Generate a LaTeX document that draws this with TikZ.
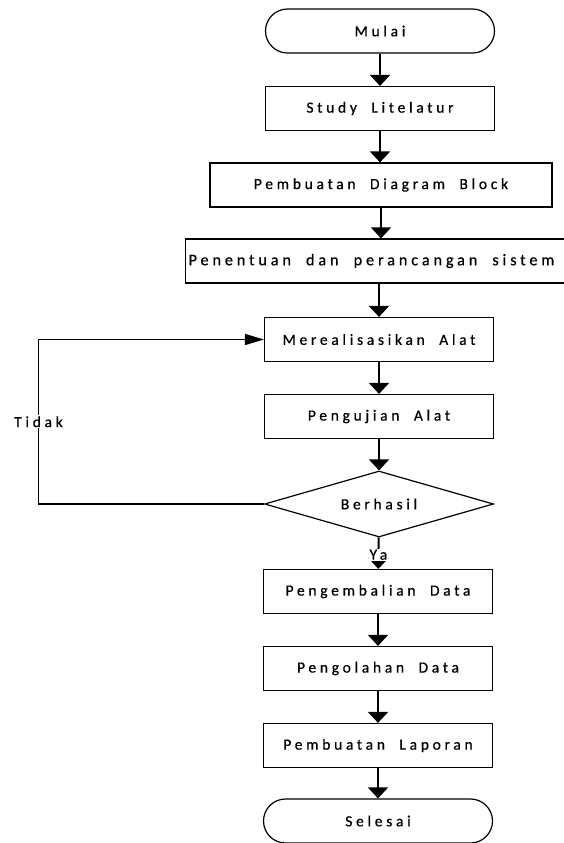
\documentclass[tikz,border=0pt]{standalone}
\usepackage{fontspec}
\setmainfont{Carlito}[LetterSpace=24,WordSpace=2,FakeBold=0.6]
\usetikzlibrary{arrows.meta,shapes.geometric}
\begin{document}
\begin{tikzpicture}[x=1pt,y=-1pt,
  lbl/.style={font=\fontsize{15.5}{18}\selectfont},
  box/.style={lbl,draw,line width=1.2pt,minimum width=229pt,minimum height=44pt,inner sep=0pt},
  term/.style={box,rounded corners=22pt},
  dec/.style={lbl,draw,diamond,line width=1.2pt,minimum width=229pt,minimum height=66pt,inner sep=0pt,aspect=3.4},
  arr/.style={line width=2pt,-{Triangle[width=20pt,length=11pt]}},
  loop/.style={line width=1.4pt,-{Triangle[width=11pt,length=19pt]}},
  tag/.style={lbl,fill=white,inner sep=1pt}]
\path[use as bounding box] (0,0) rectangle (564,843);
\clip (0,0) rectangle (564,843);
\node[term] (mulai) at (380,31) {Mulai};
\node[box] (study) at (380,108.5) {Study Litelatur};
\node[box,minimum width=342pt] (blok) at (381,185) {Pembuatan Diagram Block};
\node[box,anchor=west,inner xsep=3pt,font=\fontsize{16.2}{19}\selectfont] (tentu) at (185,261) {\makebox[389pt][l]{Penentuan dan perancangan sistem}};
\node[box] (real) at (379,339.5) {Merealisasikan Alat};
\node[box] (uji) at (379,416.5) {Pengujian Alat};
\node[dec] (hasil) at (379,504) {Berhasil};
\node[box] (kembali) at (378,591.5) {Pengembalian Data};
\node[box] (olah) at (378,668.5) {Pengolahan Data};
\node[box] (lapor) at (378,745.5) {Pembuatan Laporan};
\node[term] (selesai) at (378,821) {Selesai};
\coordinate (kiri) at (38.5,504);
\draw[arr] (mulai) -- (study);
\draw[arr] (study) -- (study |- blok.north);
\draw[arr] (blok.south) -- (blok.south |- tentu.north);
\draw[arr] (real.north |- tentu.south) -- (real.north);
\draw[arr] (real) -- (uji);
\draw[arr] (uji) -- (hasil);
\draw[arr] (hasil) -- (kembali) node[tag,pos=0.55] {Ya};
\draw[arr] (kembali) -- (olah);
\draw[arr] (olah) -- (lapor);
\draw[arr] (lapor) -- (selesai);
\draw[loop] (hasil.west) -- (kiri) |- (real.west) node[tag,pos=0.25] {Tidak};
\end{tikzpicture}
\end{document}
